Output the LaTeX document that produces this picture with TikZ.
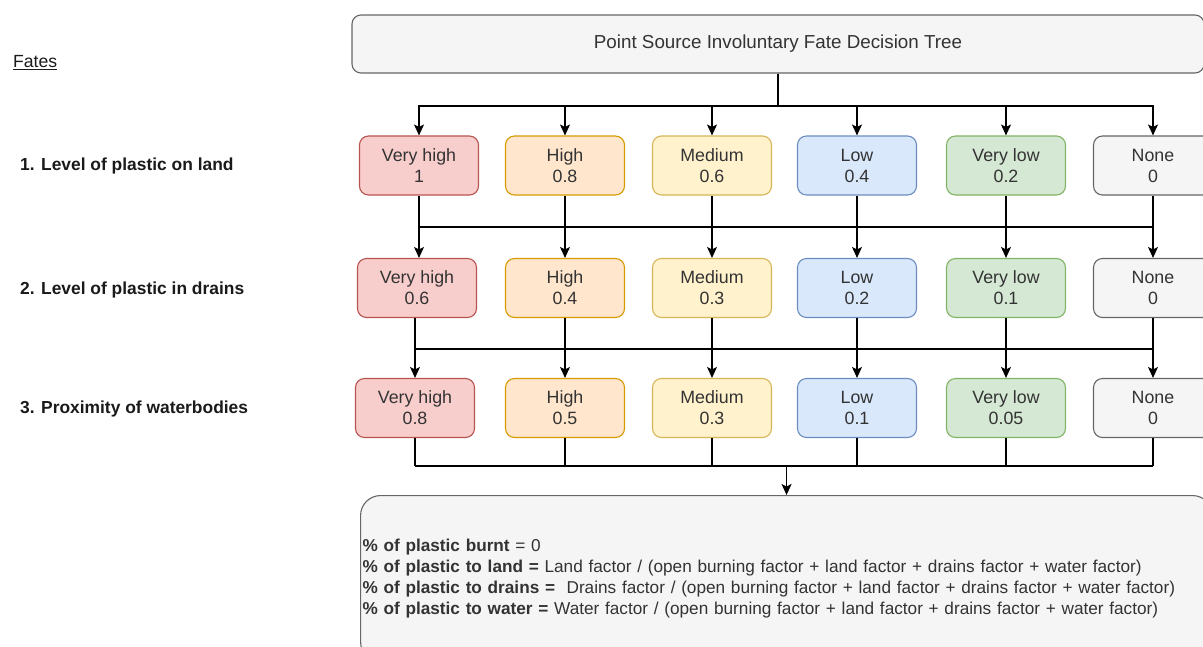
\documentclass[tikz,border=0pt]{standalone}
\usepackage{fontspec}
\setmainfont{Liberation Sans}
\usetikzlibrary{arrows.meta}
\definecolor{redF}{HTML}{F8CECC}\definecolor{redD}{HTML}{B85450}
\definecolor{orgF}{HTML}{FFE6CC}\definecolor{orgD}{HTML}{D79B00}
\definecolor{yelF}{HTML}{FFF2CC}\definecolor{yelD}{HTML}{D6B656}
\definecolor{bluF}{HTML}{DAE8FC}\definecolor{bluD}{HTML}{6C8EBF}
\definecolor{grnF}{HTML}{D5E8D4}\definecolor{grnD}{HTML}{82B366}
\definecolor{gryF}{HTML}{F5F5F5}\definecolor{gryD}{HTML}{666666}
\definecolor{txt}{HTML}{333333}
\definecolor{lbl}{HTML}{1A1A1A}
\tikzset{
  lvl/.style={draw, rounded corners=9pt, minimum width=119pt, minimum height=59pt,
    align=center, text=txt, font=\fontsize{17.8}{21}\selectfont, line width=1.1pt, inner sep=0pt},
  cred/.style={lvl, fill=redF, draw=redD},
  corg/.style={lvl, fill=orgF, draw=orgD},
  cyel/.style={lvl, fill=yelF, draw=yelD},
  cblu/.style={lvl, fill=bluF, draw=bluD},
  cgrn/.style={lvl, fill=grnF, draw=grnD},
  cgry/.style={lvl, fill=gryF, draw=gryD},
  bigbox/.style={draw=gryD, fill=gryF, text=txt, line width=1.1pt},
  conn/.style={line width=1.4pt, black},
  arr/.style={conn, -{Stealth[length=11pt,width=10pt,inset=2.5pt]}},
  side/.style={anchor=west, text=lbl, font=\fontsize{17.4}{21}\selectfont\bfseries, inner sep=0pt}
}
\begin{document}
\begin{tikzpicture}[x=1pt,y=-1pt]
\useasboundingbox (0,0) rectangle (1203,646);
\fill[white] (0,0) rectangle (1203,646);
\clip (0,0) rectangle (1203,646);

% side labels
\node[anchor=west, text=lbl, font=\fontsize{17.6}{21}\selectfont, inner sep=0pt] (fates) at (13,63) {\underline{Fates}};
\node[side] (l1) at (20,165.5) {1. Level of plastic on land};
\node[side] (l2) at (20,289.5) {2. Level of plastic in drains};
\node[side] (l3) at (20,408.5) {3. Proximity of waterbodies};

% top box
\node[bigbox, rounded corners=9pt, minimum width=852pt, minimum height=58pt,
  font=\fontsize{18.8}{21}\selectfont] (top) at (778,44) {Point Source Involuntary Fate Decision Tree};

% rows
\foreach \i/\x/\s/\a/\v in {1/419/cred/Very high/1, 2/565/corg/High/0.8, 3/712/cyel/Medium/0.6,
   4/857/cblu/Low/0.4, 5/1006/cgrn/Very low/0.2, 6/1153/cgry/None/0}
  \node[\s] (r1c\i) at (\x,165.5) {\a\\\v};
\foreach \i/\x/\s/\a/\v in {1/417/cred/Very high/0.6, 2/565/corg/High/0.4, 3/712/cyel/Medium/0.3,
   4/857/cblu/Low/0.2, 5/1006/cgrn/Very low/0.1, 6/1153/cgry/None/0}
  \node[\s] (r2c\i) at (\x,288) {\a\\\v};
\foreach \i/\x/\s/\a/\v in {1/415/cred/Very high/0.8, 2/565/corg/High/0.5, 3/712/cyel/Medium/0.3,
   4/857/cblu/Low/0.1, 5/1006/cgrn/Very low/0.05, 6/1153/cgry/None/0}
  \node[\s] (r3c\i) at (\x,408) {\a\\\v};

% bottom box
\node[bigbox, rounded corners=20pt, minimum width=852pt, minimum height=166pt,
  text width=848pt, inner xsep=2pt, inner ysep=0pt, align=left, anchor=north west,
  font=\fontsize{17.2}{20.7}\selectfont] (bot) at (360,495)
  {\textbf{\% of plastic burnt} = 0\\
   \textbf{\% of plastic to land =} Land factor / (open burning factor + land factor + drains factor + water factor)\\
   \textbf{\% of plastic to drains =}\ \ Drains factor / (open burning factor + land factor + drains factor + water factor)\\
   \textbf{\% of plastic to water =} Water factor / (open burning factor + land factor + drains factor + water factor)};

% bus coordinates
\coordinate (b1) at (0,106);
\coordinate (b2) at (0,227);
\coordinate (b3) at (0,349);
\coordinate (b4) at (0,466);

% top -> row 1
\foreach \i in {1,...,6}
  \draw[arr] (top.south) -- (top.south |- b1) -| (r1c\i.north);

% row 1 -> row 2
\draw[conn] (r1c1.south |- b2) -- (r1c6.south |- b2);
\foreach \i in {1,...,6}
  \draw[arr] (r1c\i.south) -- (r1c\i.south |- r2c\i.north);

% row 2 -> row 3
\draw[conn] (r3c1.north |- b3) -- (r3c6.north |- b3);
\foreach \i in {1,...,6}
  \draw[arr] (r3c\i.north |- r2c\i.south) -- (r3c\i.north);

% row 3 -> bottom
\draw[conn] (r3c1.south |- b4) -- (r3c6.south |- b4);
\foreach \i in {1,...,6}
  \draw[conn] (r3c\i.south) -- (r3c\i.south |- b4);
\draw[arr] (bot.north |- b4) -- (bot.north);
\end{tikzpicture}
\end{document}
